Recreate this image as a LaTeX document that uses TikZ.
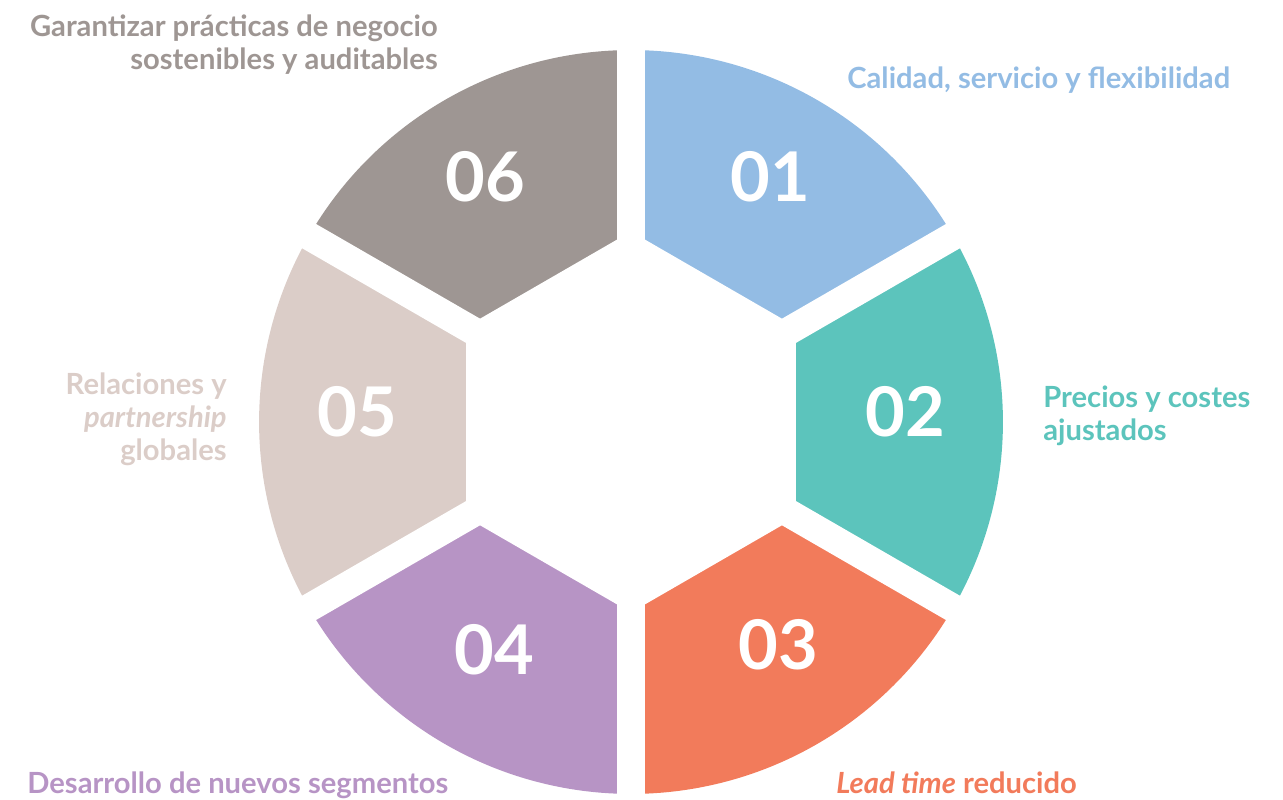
\documentclass[tikz,border=0pt]{standalone}
\usepackage{fontspec}
\setmainfont{Lato}
\definecolor{c1}{HTML}{93BCE4}
\definecolor{c2}{HTML}{5CC4BC}
\definecolor{c3}{HTML}{F27B5B}
\definecolor{c4}{HTML}{B794C5}
\definecolor{c5}{HTML}{DBCDC8}
\definecolor{c6}{HTML}{9E9693}
\begin{document}
\begin{tikzpicture}[x=0.02cm,y=0.02cm,
  lbl/.style={font=\fontsize{16.6}{18.8}\selectfont\bfseries, inner sep=0pt},
  num/.style={font=\fontsize{39}{40}\selectfont\bfseries, text=white, inner sep=0pt},
  gapline/.style={draw=white, line width=0.56cm}]
\useasboundingbox (0,0) rectangle (1283,800);
\coordinate (C) at (631,378);
% sectors
\fill[c1] (C) -- ++(90:7.44cm) arc[start angle=90, end angle=30, radius=7.44cm] -- cycle;
\fill[c2] (C) -- ++(30:7.44cm) arc[start angle=30, end angle=-30, radius=7.44cm] -- cycle;
\fill[c3] (C) -- ++(-30:7.44cm) arc[start angle=-30, end angle=-90, radius=7.44cm] -- cycle;
\fill[c4] (C) -- ++(-90:7.44cm) arc[start angle=-90, end angle=-150, radius=7.44cm] -- cycle;
\fill[c5] (C) -- ++(210:7.44cm) arc[start angle=210, end angle=150, radius=7.44cm] -- cycle;
\fill[c6] (C) -- ++(150:7.44cm) arc[start angle=150, end angle=90, radius=7.44cm] -- cycle;
% inner hexagon
\fill[white, shift={(C)}] (90:3.81cm) -- (30:3.81cm) -- (-30:3.81cm) -- (-90:3.81cm) -- (-150:3.81cm) -- (150:3.81cm) -- cycle;
% gaps
\foreach \a in {90,30,-30,-90,-150,150} \draw[gapline] (C) -- ++(\a:7.6cm);
% numbers
\node[num] (n1) at (770,623) {01};
\node[num] (n2) at (905,388) {02};
\node[num] (n3) at (778,155) {03};
\node[num] (n4) at (494,150) {04};
\node[num] (n5) at (357,388) {05};
\node[num] (n6) at (485,623) {06};
% labels
\node[lbl, text=c6, anchor=base east, align=right] (l6) at (438,730) {Garantizar prácticas de negocio\\sostenibles y auditables};
\node[lbl, text=c1, anchor=base west] (l1) at (847,711) {Calidad, servicio y flexibilidad};
\node[lbl, text=c2, anchor=base west, align=left] (l2) at (1043,359) {Precios y costes\\ajustados};
\node[lbl, text=c3, anchor=base west] (l3) at (836,6) {\textit{Lead time} reducido};
\node[lbl, text=c4, anchor=base west] (l4) at (27,6) {Desarrollo de nuevos segmentos};
\node[lbl, text=c5, anchor=base east, align=right] (l5) at (227,339) {Relaciones y\\\textit{partnership}\\globales};
\end{tikzpicture}
\end{document}
